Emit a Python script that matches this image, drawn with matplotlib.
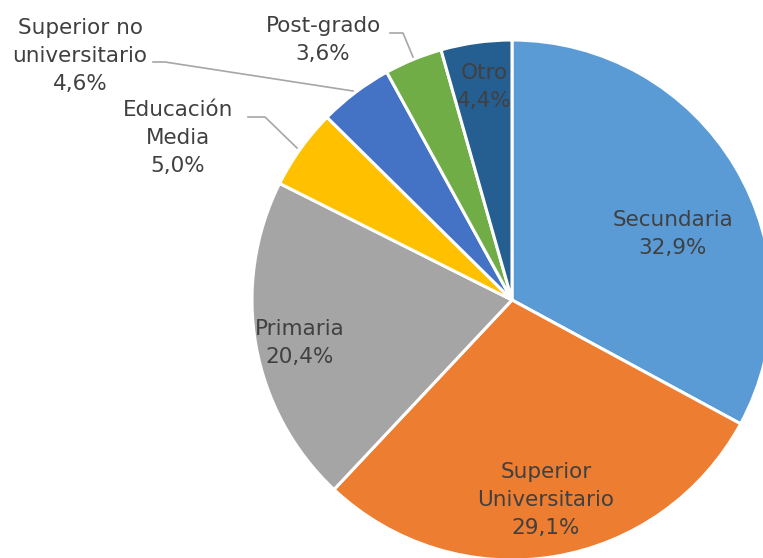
import matplotlib.pyplot as plt

# Distribución por nivel educativo
categorias = ['Secundaria', 'Superior\nUniversitario', 'Primaria', 'Educación\nMedia',
              'Superior no\nuniversitario', 'Post-grado', 'Otro']
porcentajes = [32.9, 29.1, 20.4, 5.0, 4.6, 3.6, 4.4]
colores = ['#5B9BD5', '#ED7D31', '#A5A5A5', '#FFC000', '#4472C4', '#70AD47', '#255E91']

W, H = 763, 558
cx, cy, r = 512, H - 300, 260
gris_texto = '#404040'

plt.rcParams['font.family'] = ['DejaVu Sans']

fig = plt.figure(figsize=(W / 100, H / 100), dpi=100)
ax = fig.add_axes([0, 0, 1, 1])

wedges, _ = ax.pie(porcentajes, colors=colores, startangle=90, counterclock=False,
                   center=(cx, cy), radius=r, frame=True,
                   wedgeprops=dict(edgecolor='white', linewidth=2.2))
ax.set_xlim(0, W)
ax.set_ylim(0, H)
ax.set_aspect('equal')
ax.axis('off')

def etiqueta(i):
    return f"{categorias[i]}\n{porcentajes[i]:.1f}%".replace('.', ',')

# etiquetas dentro de las porciones
dentro = {0: (673, 234), 1: (546, 500), 2: (300, 343), 6: (484, 87)}
for i, (x, y) in dentro.items():
    ax.text(x, H - y, etiqueta(i), ha='center', va='center', fontsize=15.5,
            color=gris_texto, linespacing=1.5)

# etiquetas externas con líneas guía
fuera = {
    3: ((178, 138), [(248, 117), (265, 117), (297, 148)]),
    4: ((80, 56), [(153, 62), (165, 62), (353, 91)]),
    5: ((323, 40), [(390, 33), (403, 33), (413, 57)]),
}
for i, ((x, y), linea) in fuera.items():
    ax.text(x, H - y, etiqueta(i), ha='center', va='center', fontsize=15.5,
            color=gris_texto, linespacing=1.5)
    xs = [p[0] for p in linea]
    ys = [H - p[1] for p in linea]
    ax.plot(xs, ys, color='#A6A6A6', linewidth=1.2)

fig.savefig('out.png', dpi=100, facecolor='white')
